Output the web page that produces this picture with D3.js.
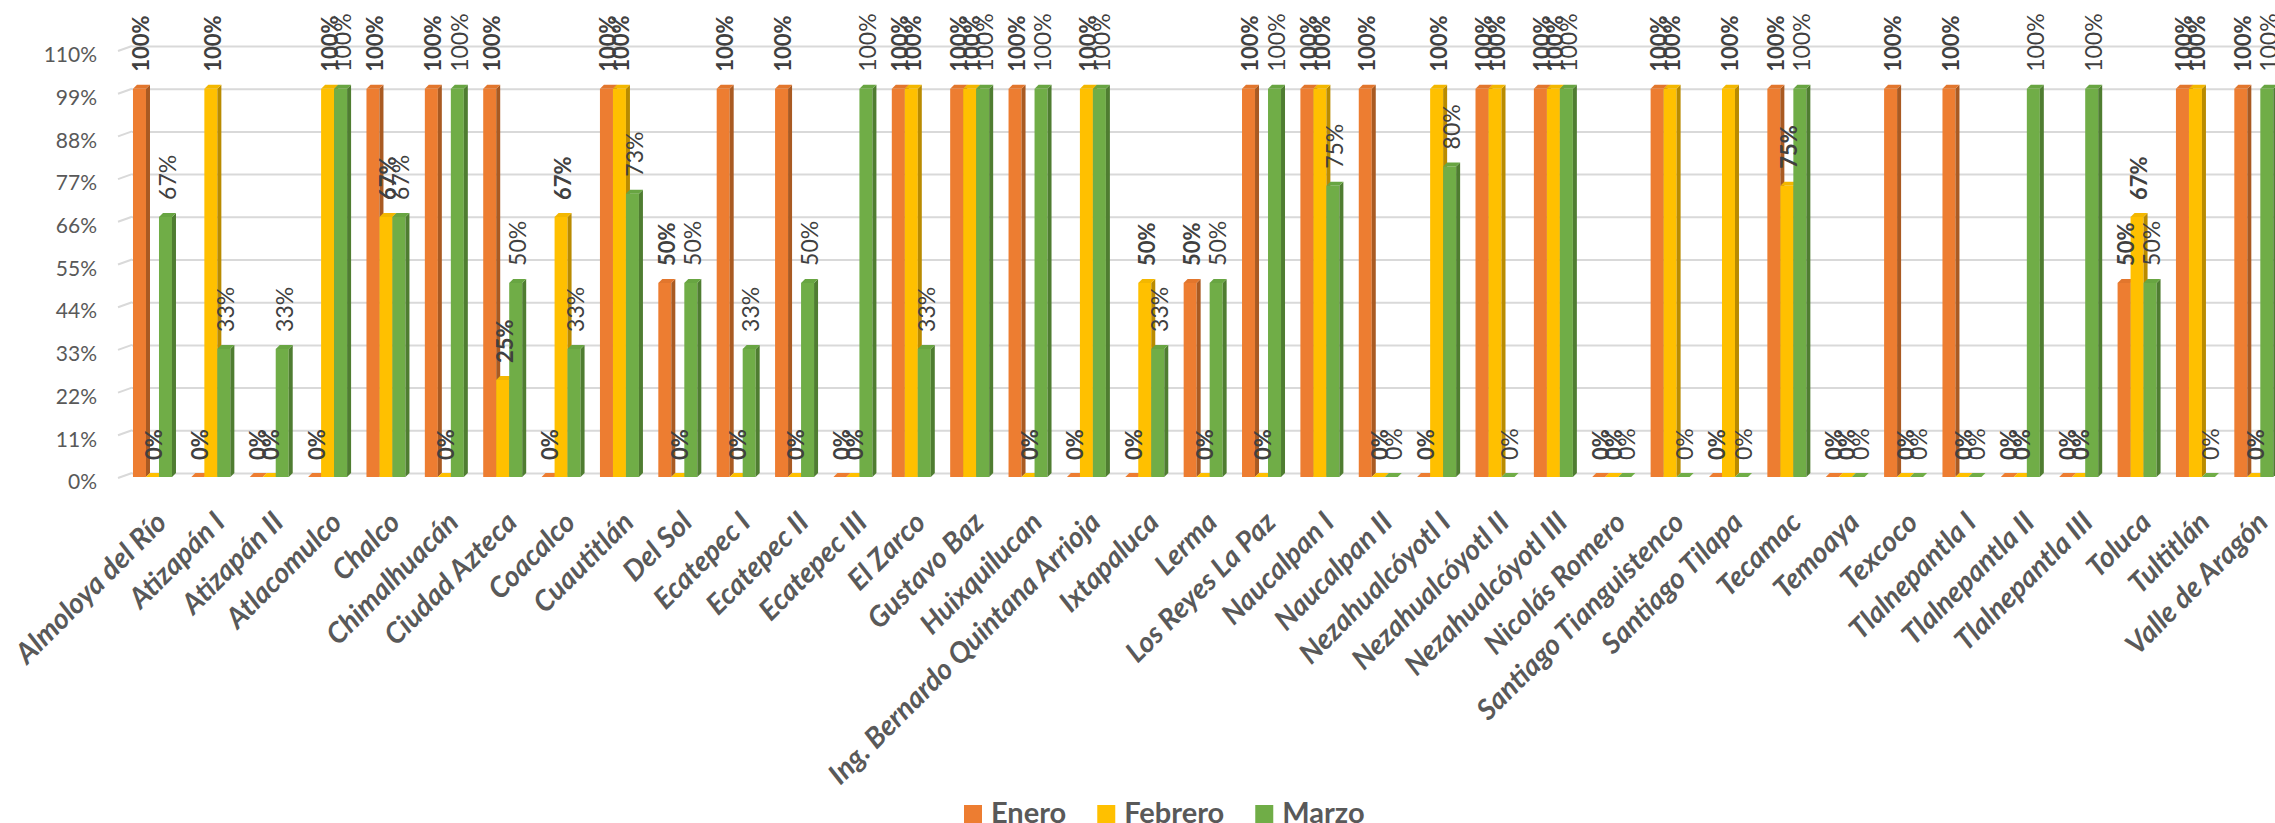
<!DOCTYPE html>
<html><head><meta charset="utf-8">
<script src="https://cdn.jsdelivr.net/npm/d3@7"></script>
<style>body{margin:0;background:#fff} svg{display:block}</style>
</head><body><svg id="c" width="2275" height="823"></svg>
<script>
const categories = ["Almoloya del Río","Atizapán I","Atizapán II","Atlacomulco","Chalco","Chimalhuacán","Ciudad Azteca","Coacalco","Cuautitlán","Del Sol","Ecatepec I","Ecatepec II","Ecatepec III","El Zarco","Gustavo Baz","Huixquilucan","Ing. Bernardo Quintana Arrioja","Ixtapaluca","Lerma","Los Reyes La Paz","Naucalpan I","Naucalpan II","Nezahualcóyotl I","Nezahualcóyotl II","Nezahualcóyotl III","Nicolás Romero","Santiago Tianguistenco","Santiago Tilapa","Tecamac","Temoaya","Texcoco","Tlalnepantla I","Tlalnepantla II","Tlalnepantla III","Toluca","Tultitlán","Valle de Aragón"];
const seriesNames = ["Enero","Febrero","Marzo"];
const enero   = [1,0,0,0,1,1,1,0,1,0.5,1,1,0,1,1,1,0,0,0.5,1,1,1,0,1,1,0,1,0,1,0,1,1,0,0,0.5,1,1];
const febrero = [0,1,0,1,0.67,0,0.25,0.67,1,0,0,0,0,1,1,0,1,0.5,0,0,1,0,1,1,1,0,1,1,0.75,0,0,0,0,0,0.67,1,0];
const marzo   = [0.67,0.33,0.33,1,0.67,1,0.5,0.33,0.73,0.5,0.33,0.5,1,0.33,1,1,1,0.33,0.5,1,0.75,0,0.8,0,1,0,0,0,1,0,0,0,1,1,0.5,0,1];
const yTicks = [0,0.11,0.22,0.33,0.44,0.55,0.66,0.77,0.88,0.99,1.1];
const yTickLabels = ["0%","11%","22%","33%","44%","55%","66%","77%","88%","99%","110%"];
const colors = ["#ED7D31","#FFC000","#70AD47"];
const sideColors = ["#a95a22","#b98b00","#4f7d31"];
const topColors = ["#e2762d","#f3b700","#68a542"];

const seriesData = [enero, febrero, marzo];
const svg = d3.select("#c");
const FONT = "Lato, 'Open Sans', sans-serif";

const x0 = d3.scaleBand().domain(categories).range([123.3, 2283]);
const bw = x0.bandwidth();
const gw = bw * 0.668;
const x1 = d3.scaleBand().domain(seriesNames).range([(bw - gw) / 2, (bw + gw) / 2]);
const y = d3.scaleLinear().domain([0, 1.1]).range([477, 50]);
const d = 4;

// gridlines (back wall + side wall diagonal)
const grid = svg.append("g");
const gridAxis = d3.axisLeft(y).tickValues(yTicks).tickSize(-(2275 - 132)).tickFormat("");
const gg = grid.append("g").attr("transform", "translate(132,-4)").call(gridAxis);
gg.select(".domain").remove();
gg.selectAll(".tick line").attr("stroke", "#d9d9d9").attr("stroke-width", 2);
grid.selectAll("line.diag").data(yTicks).join("line").attr("class","diag")
  .attr("x1", 118).attr("y1", v => y(v) + 1).attr("x2", 132).attr("y2", v => y(v) - 4)
  .attr("stroke", "#d9d9d9").attr("stroke-width", 2);

// y tick labels
const ya = svg.append("g").attr("transform", "translate(97,5)")
  .call(d3.axisLeft(y).tickValues(yTicks).tickSize(0).tickPadding(0).tickFormat((v, i) => yTickLabels[i]));
ya.select(".domain").remove();
ya.selectAll("text").attr("fill", "#595959").style("font-family", FONT).style("font-size", "21px");

// bars
const bars = svg.append("g");
categories.forEach((cat, ci) => {
  seriesNames.forEach((s, si) => {
    const v = seriesData[si][ci];
    const bx = x0(cat) + x1(s);
    const w = x1.bandwidth();
    const yt = y(v), yb = y(0);
    const g = bars.append("g");
    if (v > 0) {
      g.append("rect").attr("x", bx).attr("y", yt).attr("width", w).attr("height", yb - yt).attr("fill", colors[si]);
      g.append("polygon").attr("points", [[bx + w, yt], [bx + w + d, yt - d], [bx + w + d, yb - d], [bx + w, yb]].join(" ")).attr("fill", sideColors[si]);
    }
    g.append("polygon").attr("points", [[bx, yt], [bx + d, yt - d], [bx + w + d, yt - d], [bx + w, yt]].join(" ")).attr("fill", v > 0 ? topColors[si] : colors[si]);
  });
});

// data labels
const fmt = d3.format(".0%");
const labels = svg.append("g");
categories.forEach((cat, ci) => {
  seriesNames.forEach((s, si) => {
    const v = seriesData[si][ci];
    const cx = x0(cat) + x1(s) + x1.bandwidth() / 2 + d / 2;
    const ly = y(v) - 17;
    labels.append("text")
      .attr("transform", `translate(${cx},${ly}) rotate(-90)`)
      .attr("dy", "0.36em")
      .attr("fill", "#404040")
      .style("font-family", FONT)
      .style("font-size", si < 2 ? "22px" : "23px")
      .style("font-weight", si < 2 ? "700" : "400")
      .text(fmt(v));
  });
});

// category axis
const xa = svg.append("g").attr("transform", "translate(0,511)")
  .call(d3.axisBottom(x0).tickSize(0).tickPadding(0));
xa.select(".domain").remove();
xa.selectAll(".tick text")
  .attr("x", 2).attr("y", 0).attr("dy", "0.72em")
  .attr("text-anchor", "end")
  .attr("transform", "rotate(-45)")
  .attr("fill", "#595959")
  .style("font-family", FONT).style("font-size", "28.5px")
  .style("font-weight", "700").style("font-style", "italic");

// legend
const leg = svg.append("g");
let lx = 964;
seriesNames.forEach((s, si) => {
  leg.append("rect").attr("x", lx).attr("y", 805).attr("width", 18).attr("height", 18).attr("fill", colors[si]);
  const t = leg.append("text").attr("x", lx + 27).attr("y", 823).attr("fill", "#595959")
    .style("font-family", FONT).style("font-size", "29px").style("font-weight", "700").text(s);
  lx += 27 + t.node().getComputedTextLength() + 31;
});
</script></body></html>
